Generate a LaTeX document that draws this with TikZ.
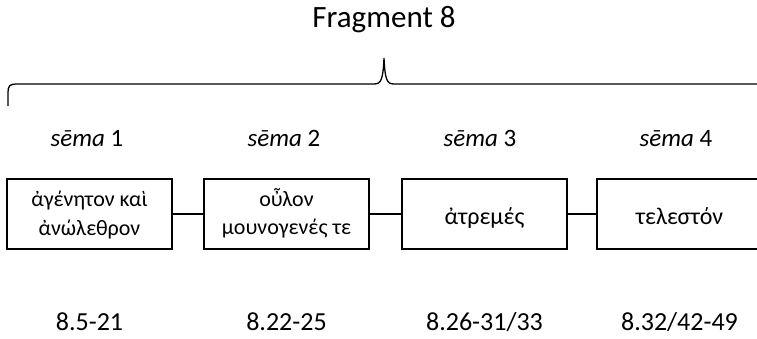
\documentclass[tikz,border=0pt]{standalone}
\usepackage{fontspec}
\setmainfont{Carlito}
\begin{document}
\begin{tikzpicture}[x=1pt,y=-1pt,
  stbox/.style={draw,line width=1.4pt,minimum width=165pt,minimum height=70pt,inner sep=0pt},
  gk/.style={anchor=base,inner sep=0pt,font=\fontsize{22}{26}\selectfont},
  lbl/.style={anchor=base,inner sep=0pt,font=\fontsize{25}{28}\selectfont\itshape},
  num/.style={anchor=base,inner sep=0pt,font=\fontsize{26}{30}\selectfont},
  conn/.style={line width=1.4pt}]
\useasboundingbox (0,0) rectangle (757,339);
\node[anchor=base,inner sep=0pt,font=\fontsize{31}{36}\selectfont] (title) at (384,28) {Fragment 8};
% brace
\coordinate (bl) at (8,106);
\coordinate (br) at (770,106);
\coordinate (cusp) at (384,58);
\draw[line width=1.3pt] (bl) -- (8,92) .. controls (8,86) and (10,84) .. (16,84)
  -- (374,84) .. controls (381,84) and (383,80) .. (cusp)
  .. controls (385,80) and (387,84) .. (394,84) -- (762,84)
  .. controls (768,84) and (770,86) .. (770,92) -- (br);
% boxes
\node[stbox] (b1) at (89.5,214) {};
\node[stbox] (b2) at (286.5,214) {};
\node[stbox] (b3) at (484.5,214) {};
\node[stbox] (b4) at (679.5,214) {};
\node[gk] (t1a) at (b1.center |- 0,207) {ἀγένητον καὶ};
\node[gk] (t1b) at (b1.center |- 0,235) {ἀνώλεθρον};
\node[gk] (t2a) at (b2.center |- 0,207) {οὖλον};
\node[gk] (t2b) at (b2.center |- 0,234) {μουνογενές τε};
\node[gk,font=\fontsize{24}{28}\selectfont] (t3) at (b3.center |- 0,224) {ἀτρεμές};
\node[gk,font=\fontsize{24}{28}\selectfont] (t4) at (b4.center |- 0,224) {τελεστόν};
\draw[conn] (b1) -- (b2);
\draw[conn] (b2) -- (b3);
\draw[conn] (b3) -- (b4);
% labels
\node[lbl] (s1) at (87,147) {sēma \upshape 1};
\node[lbl] (s2) at (284,147) {sēma \upshape 2};
\node[lbl] (s3) at (480,147) {sēma \upshape 3};
\node[lbl] (s4) at (676,147) {sēma \upshape 4};
\node[num] (n1) at (89.5,330) {8.5-21};
\node[num] (n2) at (286.5,330) {8.22-25};
\node[num] (n3) at (484.5,330) {8.26-31/33};
\node[num] (n4) at (679.5,330) {8.32/42-49};
\end{tikzpicture}
\end{document}
